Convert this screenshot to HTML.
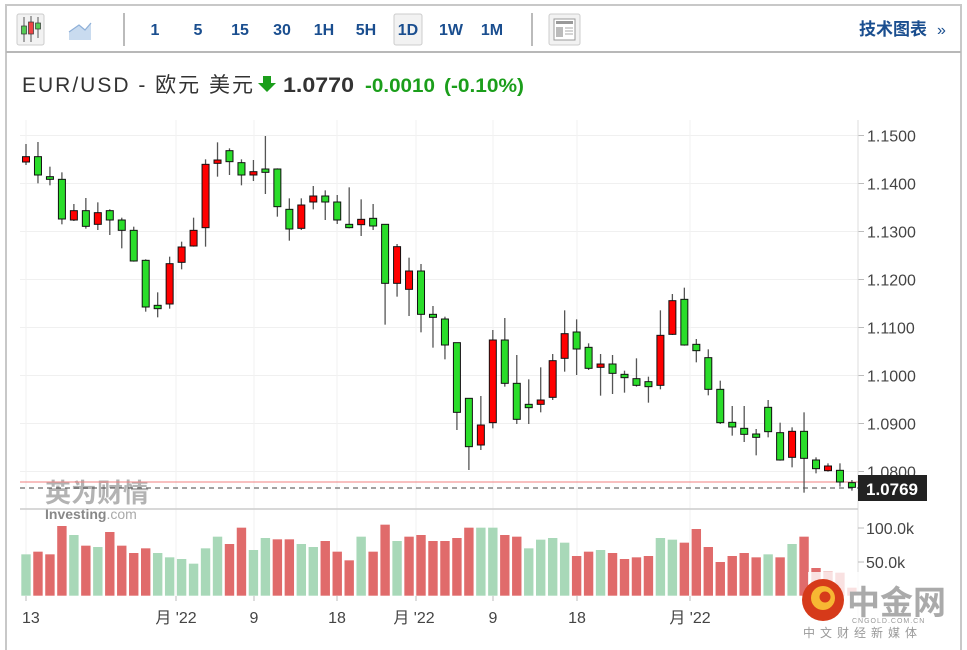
<!DOCTYPE html>
<html><head><meta charset="utf-8"><style>
body{margin:0;width:967px;height:650px;background:#fff;overflow:hidden;font-family:"Liberation Sans","Noto Sans CJK SC",sans-serif;}
svg{position:absolute;left:0;top:0}
</style></head><body>
<svg id="s" width="967" height="650" xmlns="http://www.w3.org/2000/svg" font-family="Liberation Sans, Noto Sans CJK SC, sans-serif">
<rect x="6" y="5" width="955" height="660" fill="#fff" stroke="#c8c8c8" stroke-width="2"/>
<line x1="6" y1="52" x2="961" y2="52" stroke="#b8b8b8" stroke-width="2"/>
<!-- toolbar -->
<rect x="17" y="14" width="27" height="31" rx="2" fill="#f2f2f2" stroke="#ccc"/>
<line x1="24" y1="17" x2="24" y2="42" stroke="#555"/><rect x="21.5" y="26" width="5" height="8" fill="#5c5" stroke="#333" stroke-width=".7"/>
<line x1="31" y1="16" x2="31" y2="42" stroke="#555"/><rect x="28.5" y="22" width="5" height="12" fill="#e44" stroke="#333" stroke-width=".7"/>
<line x1="38" y1="17" x2="38" y2="38" stroke="#555"/><rect x="35.5" y="23" width="5" height="6" fill="#5c5" stroke="#333" stroke-width=".7"/>
<path d="M69 40 L69 32 L79 25 L85 30 L91 23 L91 40 Z" fill="#c9dbef"/><path d="M69 32 L79 25 L85 30 L91 23" fill="none" stroke="#8fb0d8" stroke-width="1.2"/>
<line x1="124" y1="13" x2="124" y2="46" stroke="#bbb" stroke-width="2"/>
<rect x="394" y="14" width="28" height="31" rx="2" fill="#f2f2f2" stroke="#ccc"/>
<g fill="#1a4e8f" font-weight="bold" font-size="16" text-anchor="middle">
<text x="155" y="35">1</text><text x="198" y="35">5</text><text x="240" y="35">15</text><text x="282" y="35">30</text><text x="324" y="35">1H</text><text x="366" y="35">5H</text><text x="408" y="35">1D</text><text x="451" y="35">1W</text><text x="492" y="35">1M</text>
</g>
<line x1="532" y1="13" x2="532" y2="46" stroke="#bbb" stroke-width="2"/>
<rect x="549" y="14" width="31" height="31" rx="2" fill="#f2f2f2" stroke="#ccc"/>
<rect x="554" y="19" width="21" height="21" fill="#fff" stroke="#999"/><rect x="556" y="21" width="17" height="3" fill="#999"/><rect x="556" y="27" width="7" height="10" fill="#bbb"/>
<g stroke="#aaa"><line x1="565" y1="28" x2="573" y2="28"/><line x1="565" y1="31" x2="573" y2="31"/><line x1="565" y1="34" x2="573" y2="34"/></g>
<text x="859" y="35" fill="#1a4e8f" font-weight="bold" font-size="17">技术图表</text>
<text x="937" y="35" fill="#1a4e8f" font-size="16">»</text>
<!-- title -->
<text x="22" y="92" font-size="21" fill="#333" textLength="231" lengthAdjust="spacing">EUR/USD - 欧元 美元</text>
<path d="M263 76 h8 v7 h5 l-9 9 l-9 -9 h5z" fill="#1b9e1b"/>
<text x="283" y="92" font-size="21" font-weight="bold" fill="#333" textLength="71" lengthAdjust="spacingAndGlyphs">1.0770</text>
<text x="365" y="92" font-size="19" font-weight="bold" fill="#1b9e1b" textLength="70" lengthAdjust="spacingAndGlyphs">-0.0010</text>
<text x="444" y="92" font-size="19" font-weight="bold" fill="#1b9e1b" textLength="80" lengthAdjust="spacingAndGlyphs">(-0.10%)</text>
<g id="c"></g>
</svg>
<script>
var h='';
for(var i=0;i<8;i++){var y=135.5+48*i;h+='<line x1="20" y1="'+y+'" x2="858" y2="'+y+'" stroke="#f0f0f0"/><line x1="858" y1="'+y+'" x2="864" y2="'+y+'" stroke="#bbb"/>';
h+='<text x="867" y="'+(y+6)+'" font-size="16" fill="#444">'+(1.15-0.01*i).toFixed(4)+'</text>';}
[26,176,254,337,416,493,577,690].forEach(function(x){h+='<line x1="'+x+'" y1="120" x2="'+x+'" y2="596" stroke="#f2f2f2"/><line x1="'+x+'" y1="596" x2="'+x+'" y2="601" stroke="#bbb"/>';});
h+='<line x1="858" y1="120" x2="858" y2="640" stroke="#ddd"/>';
h+='<line x1="20" y1="509" x2="858" y2="509" stroke="#ccc" stroke-width="1.5"/>';
h+='<line x1="858" y1="528" x2="864" y2="528" stroke="#bbb"/><line x1="858" y1="562" x2="864" y2="562" stroke="#bbb"/>';
h+='<text x="866" y="534" font-size="16" fill="#444">100.0k</text><text x="866" y="568" font-size="16" fill="#444">50.0k</text>';
[[22,'13','start'],[176,'月 \'22','middle'],[254,'9','middle'],[337,'18','middle'],[414,'月 \'22','middle'],[493,'9','middle'],[577,'18','middle'],[690,'月 \'22','middle']].forEach(function(a){h+='<text x="'+a[0]+'" y="623" font-size="16" fill="#444" text-anchor="'+a[2]+'">'+a[1]+'</text>';});
h+='<text x="45" y="502" font-size="26" font-weight="bold" fill="#9a9a9a" opacity=".75">英为财情</text>';
h+='<text x="45" y="519" font-size="14" font-weight="bold" fill="#888">Investing<tspan font-weight="normal" fill="#aaa">.com</tspan></text>';
var C=[[72,110,126,135,'R'],[66,110,165,190,'G'],[140,170,178,196,'G'],[157,178,297,313,'G'],[252,272,300,303,'R'],[234,272,319,326,'G'],[247,278,313,330,'R'],[268,272,300,345,'G'],[293,300,331,385,'G'],[320,331,423,425,'G'],[418,421,561,575,'G'],[517,556,566,592,'G'],[410,431,552,566,'R'],[365,381,427,448,'R'],[293,331,378,380,'R'],[118,133,323,380,'R'],[67,120,130,170,'R'],[85,92,125,165,'G'],[118,128,165,196,'G'],[120,155,165,183,'R'],[48,147,157,222,'G'],[145,147,260,290,'G'],[235,268,327,362,'G'],[235,255,325,330,'R'],[198,228,246,268,'R'],[211,228,246,300,'G'],[225,246,300,312,'G'],[202,313,323,325,'G'],[238,298,314,348,'R'],[252,295,318,330,'G'],[313,313,490,614,'G'],[372,380,490,530,'R'],[413,453,508,588,'R'],[432,453,583,637,'G'],[558,583,592,683,'G'],
[590,597,675,718,'G'],[668,668,877,930,'G'],[835,835,980,1050,'G'],[828,915,975,990,'R'],[630,660,908,925,'R'],[594,660,790,800,'G'],[705,790,898,912,'G'],[778,853,863,912,'G'],[742,840,853,877,'R'],[702,722,832,840,'R'],[571,641,715,755,'R'],[598,636,687,765,'G'],[670,682,745,750,'G'],[702,732,742,827,'R'],[705,732,760,822,'G'],[752,763,773,818,'G'],[715,776,796,800,'G'],[770,785,800,848,'G'],[571,646,796,808,'R'],[522,542,643,645,'R'],[503,538,675,677,'G'],[657,673,692,727,'G'],[688,713,808,826,'G'],[782,808,908,912,'G'],[858,907,921,947,'G'],[858,925,943,966,'G'],[927,942,952,1006,'G'],[840,862,935,952,'G'],[908,938,1020,1022,'G'],[922,934,1012,1042,'R'],[877,934,1015,1118,'G'],[1012,1020,1046,1060,'G'],[1030,1038,1052,1055,'R'],[1030,1051,1086,1100,'G'],[1080,1088,1102,1112,'G']];
var V=[[148,'G'],[140,'R'],[148,'R'],[63,'R'],[90,'G'],[122,'R'],[126,'G'],[81,'R'],[122,'R'],[144,'R'],[130,'R'],[144,'G'],[157,'G'],[162,'G'],[176,'G'],[130,'G'],[95,'G'],[117,'R'],[68,'R'],[135,'G'],[99,'G'],[103,'R'],[103,'R'],[117,'G'],[126,'G'],[108,'R'],[140,'R'],[166,'R'],[95,'G'],[140,'R'],[59,'R'],[108,'G'],[95,'R'],[90,'R'],[108,'R'],[108,'R'],[99,'R'],[68,'R'],[68,'G'],[68,'G'],[90,'R'],[95,'R'],[130,'G'],[104,'G'],[99,'G'],[113,'G'],[153,'R'],[140,'R'],[135,'G'],[144,'R'],[162,'R'],[157,'R'],[153,'R'],[99,'G'],[104,'G'],[113,'R'],[72,'R'],[126,'R'],[171,'R'],[153,'R'],[144,'R'],[157,'R'],[148,'G'],[157,'R'],[117,'G'],[95,'R'],[189,'R'],[200,'R'],[203,'R'],[248,'R']];
function Y(z){return 120+z/3;}
V.forEach(function(v,i){var x=26+11.97*i,t=505+v[0]/3;h+='<rect x="'+(x-4.7)+'" y="'+t+'" width="9.4" height="'+(595.7-t)+'" fill="'+(v[1]=='R'?'#e06b6b':'#a8d8b8')+'"/>';});
h+='<line x1="20" y1="482" x2="858" y2="482" stroke="#f08080" stroke-width="1"/>';
h+='<line x1="20" y1="488" x2="858" y2="488" stroke="#444" stroke-dasharray="5,4"/>';
C.forEach(function(c,i){var x=26+11.97*i;h+='<line x1="'+x+'" y1="'+Y(c[0])+'" x2="'+x+'" y2="'+Y(c[3])+'" stroke="#555" stroke-width="1.3"/>';
var t=Y(c[1]),b=Y(c[2]);if(b-t<2)b=t+2;h+='<rect x="'+(x-3.5)+'" y="'+t+'" width="7" height="'+(b-t)+'" fill="'+(c[4]=='R'?'#ff0000':'#2add2a')+'" stroke="#111" stroke-width="1"/>';});
h+='<rect x="858" y="475" width="69" height="26" fill="#222"/><text x="866" y="495" font-size="17" fill="#fff" font-weight="bold">1.0769</text>';
h+='<rect x="808" y="572" width="150" height="72" fill="#fff" opacity=".8"/>';
h+='<circle cx="823" cy="600" r="21" fill="#d63a1a"/><circle cx="823" cy="598" r="12" fill="#f7b733"/><circle cx="825" cy="597" r="5.5" fill="#d63a1a"/>';
h+='<text x="847" y="614" font-size="33" font-weight="bold" fill="#aaa">中金网</text>';
h+='<text x="852" y="623" font-size="7" fill="#999" letter-spacing="1">CNGOLD.COM.CN</text>';
h+='<text x="803" y="637" font-size="12" fill="#999" letter-spacing="5">中文财经新媒体</text>';
document.getElementById('c').innerHTML=h;
</script>
</body></html>
